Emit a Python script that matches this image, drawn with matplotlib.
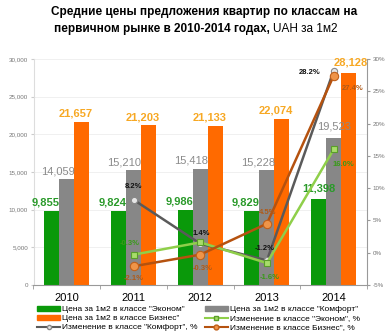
import matplotlib
matplotlib.use("Agg")
import matplotlib.pyplot as plt
import numpy as np
from matplotlib.patches import Patch
from matplotlib.lines import Line2D

plt.rcParams['font.family'] = ['Liberation Sans', 'DejaVu Sans']

# --- datos ---
anios = ['2010', '2011', '2012', '2013', '2014']
precio_econom = [9855, 9824, 9986, 9829, 11398]
precio_komfort = [14059, 15210, 15418, 15228, 19523]
precio_biznes = [21657, 21203, 21133, 22074, 28128]

anios_cambio = ['2011', '2012', '2013', '2014']
cambio_econom = [-0.3, 1.6, -1.6, 16.0]
cambio_komfort = [8.2, 1.4, -1.2, 28.2]
cambio_biznes = [-2.1, -0.3, 4.5, 27.4]

etiquetas_leyenda = ['Цена за 1м2 в классе "Эконом"', 'Цена за 1м2 в классе "Комфорт"',
                     'Цена за 1м2 в классе Бизнес"', 'Изменение в классе "Эконом", %',
                     'Изменение в классе "Комфорт", %', 'Изменение в классе Бизнес", %']

# colores
C_VERDE = '#0a990a'
C_GRIS = '#878787'
C_NARANJA = '#ff6a00'
C_TXT_VERDE = '#2a9a2a'
C_TXT_GRIS = '#8a8a8a'
C_TXT_NARANJA = '#f7a823'
C_L_VERDE = '#8fcf4a'
C_L_GRIS = '#5a5a5a'
C_L_MARRON = '#b5520f'

W, H = 392, 336
fig = plt.figure(figsize=(W / 100, H / 100), dpi=100)
ax = fig.add_axes([33.5 / W, 1 - 285 / H, (367 - 33.5) / W, (285 - 59) / H])
ax2 = ax.twinx()

x = np.arange(len(anios))
ancho = 0.225
ax.bar(x - ancho, precio_econom, ancho, color=C_VERDE, zorder=2)
ax.bar(x, precio_komfort, ancho, color=C_GRIS, zorder=2)
ax.bar(x + ancho, precio_biznes, ancho, color=C_NARANJA, zorder=2)

# etiquetas de barras
dx_grupo = [(-6, -9, -6)] * 4 + [(0, 0, 2)]
dy_grupo = [3, 3, 3, 3, 6]
for i in range(len(anios)):
    for j, (serie, col, peso) in enumerate([(precio_econom, C_TXT_VERDE, 'bold'),
                                            (precio_komfort, C_TXT_GRIS, 'normal'),
                                            (precio_biznes, C_TXT_NARANJA, 'bold')]):
        ax.annotate(f'{serie[i]:,}', (x[i] + (j - 1) * ancho, serie[i]),
                    xytext=(dx_grupo[i][j], dy_grupo[i]), textcoords='offset pixels',
                    ha='center', va='bottom', fontsize=8, color=col, fontweight=peso,
                    zorder=5)

ax.set_xlim(-0.5, len(anios) - 0.5)
ax.set_ylim(0, 30000)
ax.set_yticks(range(0, 30001, 5000))
ax.set_yticklabels([f'{v:,}' for v in range(0, 30001, 5000)])
ax.tick_params(axis='y', labelsize=4.5, labelcolor='#777777', length=2, color='#cccccc', pad=2)
ax.set_xticks(x)
ax.set_xticklabels(anios, fontsize=8)
ax.tick_params(axis='x', length=0, pad=6)
ax.set_xticks(np.arange(-0.5, len(anios), 1), minor=True)
ax.tick_params(axis='x', which='minor', length=3, color='#999999')
ax.grid(axis='y', color='#eeeeee', linewidth=0.6, zorder=0)
ax.set_axisbelow(True)
for s in ['top', 'right']:
    ax.spines[s].set_visible(False)
ax.spines['left'].set_color('#dddddd')
ax.spines['bottom'].set_color('#999999')

# lineas de cambio (eje derecho)
xc = np.arange(1, len(anios))
ax2.plot(xc, cambio_komfort, color=C_L_GRIS, lw=1.8, marker='o', ms=4.5,
         mfc='#e6e6e6', mec='#888888', mew=0.8, zorder=4)
ax2.plot(xc, cambio_econom, color=C_L_VERDE, lw=1.8, marker='s', ms=4,
         mfc='#a8dc6a', mec='#5a9e2a', mew=0.8, zorder=4)
ax2.plot(xc, cambio_biznes, color=C_L_MARRON, lw=1.8, marker='o', ms=6,
         mfc='#ef9448', mec='#c0601a', mew=0.8, zorder=4)
ax2.set_ylim(-5, 30)
ax2.set_yticks(range(-5, 31, 5))
ax2.set_yticklabels([f'{v}%' for v in range(-5, 31, 5)])
ax2.tick_params(axis='y', labelsize=4.5, labelcolor='#777777', length=2, color='#999999', pad=2)
for s in ['top', 'left', 'bottom']:
    ax2.spines[s].set_visible(False)
ax2.spines['right'].set_color('#999999')

# etiquetas de porcentajes
desp_komfort = [(0, 13), (1, 10), (-2, 12), (-24, -2)]
desp_econom = [(-4, 11), None, (3, -14), (10, -15)]
desp_biznes = [(0, -12), (2, -14), (1, 11), (19, -13)]
for serie, desp, col in [(cambio_komfort, desp_komfort, '#111111'),
                         (cambio_econom, desp_econom, '#3a9a1a'),
                         (cambio_biznes, desp_biznes, '#b05a18')]:
    for k, v in enumerate(serie):
        if desp[k] is None:
            continue
        ax2.annotate(f'{v:.1f}%', (xc[k], v), xytext=desp[k], textcoords='offset pixels',
                     ha='center', va='center', fontsize=5.5, fontweight='bold', color=col,
                     zorder=6)

# titulo
fig.text(204 / W, 1 - 12 / H, 'Средние цены предложения квартир по классам на',
         ha='center', va='center', fontsize=8.5, fontweight='bold')
fig.text(270 / W, 1 - 29 / H, 'первичном рынке в 2010-2014 годах,',
         ha='right', va='center', fontsize=8.5, fontweight='bold')
fig.text(273 / W, 1 - 29 / H, 'UAH за 1м2', ha='left', va='center', fontsize=8.5)

# leyenda
h_econom = Patch(color=C_VERDE)
h_komfort = Patch(color=C_GRIS)
h_biznes = Patch(color=C_NARANJA)
l_econom = Line2D([], [], color=C_L_VERDE, lw=1.5, marker='s', ms=3, mfc='#a8dc6a', mec='#5a9e2a')
l_komfort = Line2D([], [], color=C_L_GRIS, lw=1.5, marker='o', ms=3, mfc='#e6e6e6', mec='#888888')
l_biznes = Line2D([], [], color=C_L_MARRON, lw=1.5, marker='o', ms=3.5, mfc='#ef9448', mec='#c0601a')
handles = [h_econom, h_biznes, l_komfort, h_komfort, l_econom, l_biznes]
labels = [etiquetas_leyenda[0], etiquetas_leyenda[2], etiquetas_leyenda[4],
          etiquetas_leyenda[1], etiquetas_leyenda[3], etiquetas_leyenda[5]]
fig.legend(handles, labels, ncol=2, loc='upper left', bbox_to_anchor=(37 / W, 1 - 306 / H),
           frameon=False, fontsize=6, borderpad=0, borderaxespad=0, handlelength=2.8,
           handleheight=0.5, handletextpad=0.25, columnspacing=0.8, labelspacing=0.2)

plt.savefig('out.png', dpi=100)
plt.close()
